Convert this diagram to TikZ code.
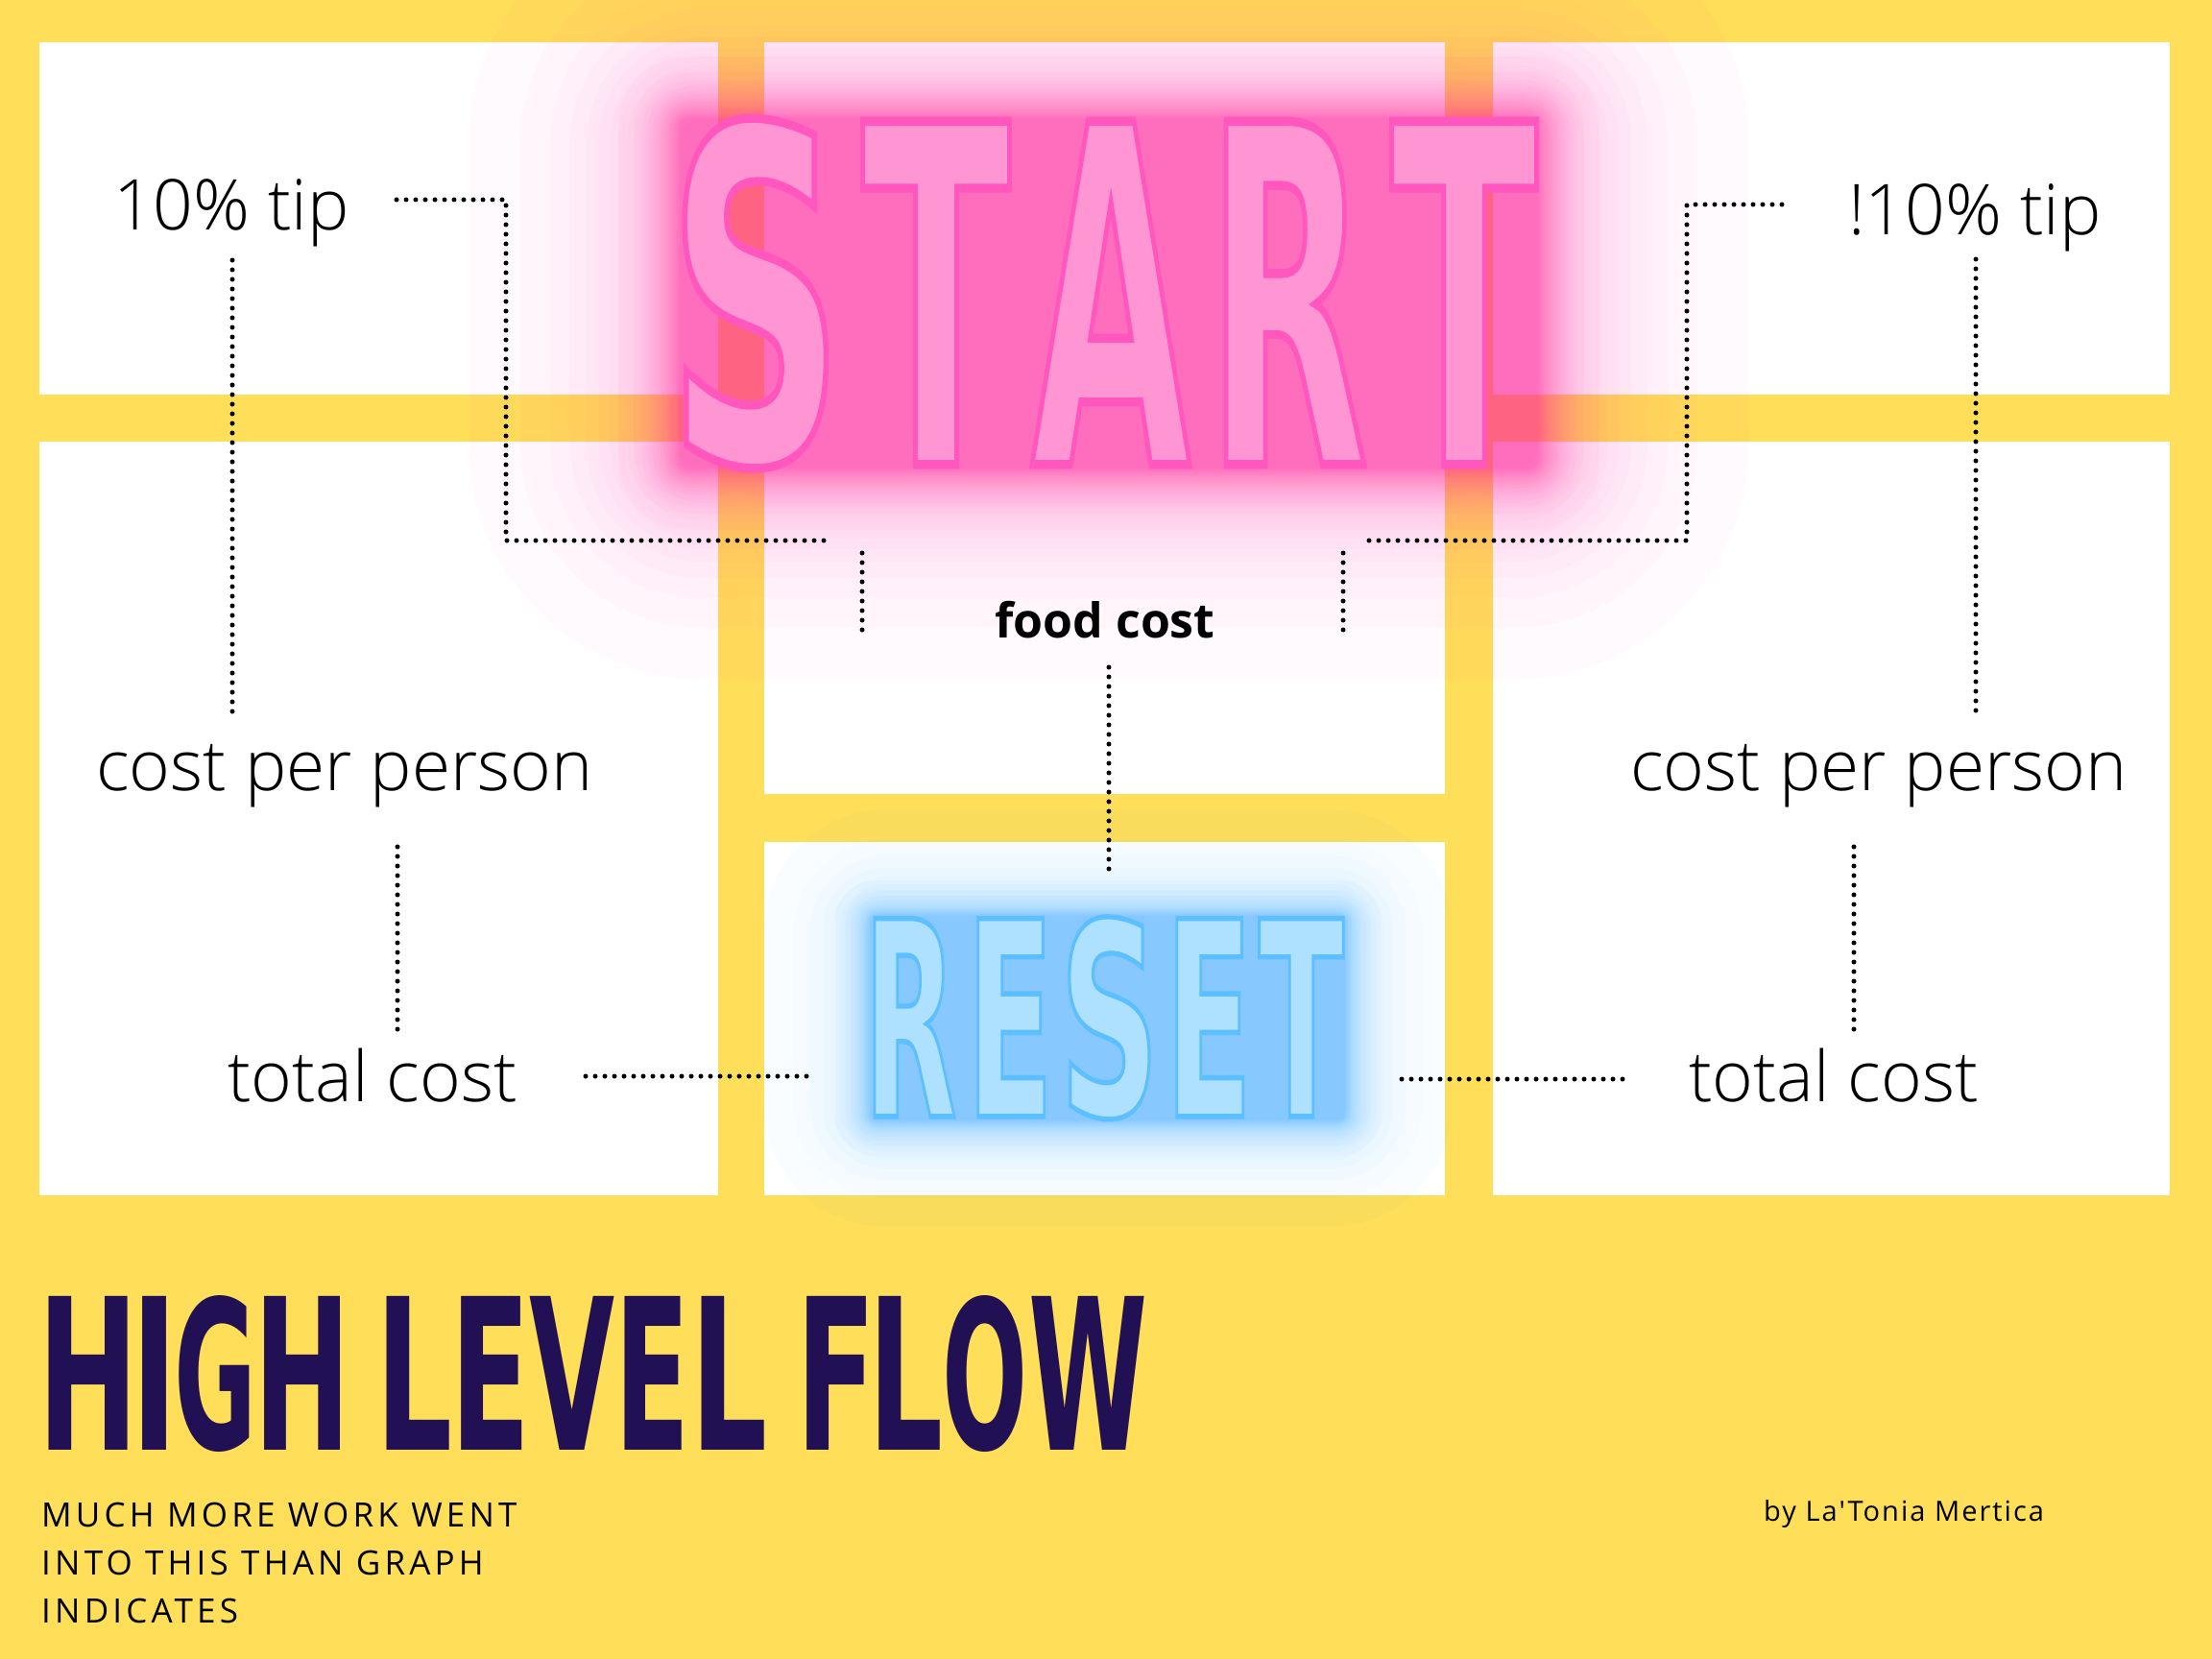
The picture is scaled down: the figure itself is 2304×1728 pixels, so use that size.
\documentclass[tikz,border=0pt]{standalone}
\usepackage{fontspec}
\usepackage{graphicx}
\setmainfont{Open Sans}
\IfFontExistsTF{Open Sans Light}{\newfontfamily\labfont{Open Sans Light}}{\newfontfamily\labfont{Open Sans}}
\IfFontExistsTF{DejaVu Sans Condensed}{\newfontfamily\bebas{DejaVu Sans Condensed}\newfontfamily\bebasG{DejaVu Sans Condensed}[FakeBold=1.9]}{\newfontfamily\bebas{DejaVu Sans}\newfontfamily\bebasG{DejaVu Sans}[FakeBold=1.9]}
\newfontfamily\subfont{Open Sans}[LetterSpace=12]
\newfontfamily\byfont{Open Sans}[LetterSpace=7]
\definecolor{ybg}{HTML}{FFDE59}
\definecolor{pinkfill}{HTML}{FF96D3}
\definecolor{pinkglow}{HTML}{FF3AAD}
\definecolor{bluefill}{HTML}{AEE1FF}
\definecolor{blueglow}{HTML}{36ACFF}
\definecolor{navy}{HTML}{221054}
\tikzset{
  dots/.style={line width=5pt, dash pattern=on 0pt off 10pt, line cap=round, black},
  lab/.style={inner sep=0pt, anchor=base, font=\labfont\fontsize{73}{88}\selectfont},
  glyph/.style={inner sep=0pt, anchor=south},
  panel/.style={fill=white, draw=none},
}
% name, cx, bottom, w, h, char, colour
\newcommand\bigglyph[7]{%
  \node[glyph, text=#7] (#1) at (#2,#3) {\resizebox{#4pt}{#5pt}{\bebas\bfseries #6}};}
% name, cx, bottom, w, h, char, colour, edge rgb
\newcommand\glowglyph[8]{%
  \node[glyph, text=#7] (#1) at (#2,#3) {\special{pdf:literal direct #8 RG}\resizebox{#4pt}{#5pt}{\bebasG\bfseries #6}};}
% x1 y1 x2 y2 colour layer-opacity max-opacity falloff
\newcommand\softglow[8]{%
  \pgfmathtruncatemacro\nmax{ln(1-#7)/ln(1-#6)}%
  \foreach \k in {1,...,\nmax}{%
    \pgfmathsetmacro\dd{-#8*ln((1-(1-#6)^\k)/#7)}%
    \pgfmathsetmacro\rr{\dd+0.3*#8}%
    \fill[#5, opacity=#6, rounded corners=\rr pt] (#1-\dd,#2-\dd) rectangle (#3+\dd,#4+\dd);}}
\begin{document}
\begin{tikzpicture}[x=1pt,y=-1pt]
\useasboundingbox (0,0) rectangle (2304,1728);
\fill[ybg] (0,0) rectangle (2304,1728);
% panels
\fill[panel] (41,44) rectangle (748,411);
\fill[panel] (41,460) rectangle (748,1245);
\fill[panel] (796,44) rectangle (1505,827);
\fill[panel] (796,877) rectangle (1505,1245);
\fill[panel] (1555,44) rectangle (2260,411);
\fill[panel] (1555,460) rectangle (2260,1245);
% glows
\softglow{709}{124}{1601}{487}{pinkglow}{0.025}{0.42}{78}
\softglow{709}{124}{1601}{487}{pinkglow}{0.03}{0.46}{24}
\softglow{908}{955}{1400}{1166}{blueglow}{0.025}{0.3}{45}
\softglow{908}{955}{1400}{1166}{blueglow}{0.03}{0.38}{15}
% connectors
\coordinate (a1) at (413,208); \coordinate (a2) at (527,208);
\coordinate (a3) at (527,563); \coordinate (a4) at (860,563);
\draw[dots] (a1) -- (a2) -- (a3) -- (a4);
\coordinate (b1) at (898,576); \coordinate (b2) at (898,660);
\draw[dots] (b1) -- (b2);
\coordinate (c1) at (1399,576); \coordinate (c2) at (1399,660);
\draw[dots] (c1) -- (c2);
\coordinate (d1) at (1426,563); \coordinate (d2) at (1757,563);
\coordinate (d3) at (1757,213); \coordinate (d4) at (1866,213);
\draw[dots] (d1) -- (d2) -- (d3) -- (d4);
\coordinate (e1) at (242,271); \coordinate (e2) at (242,742);
\draw[dots] (e1) -- (e2);
\coordinate (f1) at (2058,270); \coordinate (f2) at (2058,742);
\draw[dots] (f1) -- (f2);
\coordinate (g1) at (414,882); \coordinate (g2) at (414,1073);
\draw[dots] (g1) -- (g2);
\coordinate (h1) at (1931,882); \coordinate (h2) at (1931,1073);
\draw[dots] (h1) -- (h2);
\coordinate (i1) at (1155,695); \coordinate (i2) at (1155,907);
\draw[dots] (i1) -- (i2);
\coordinate (j1) at (610,1121); \coordinate (j2) at (843,1121);
\draw[dots] (j1) -- (j2);
\coordinate (k1) at (1460,1124); \coordinate (k2) at (1693,1124);
\draw[dots] (k1) -- (k2);
% labels
\node[lab] (tipL) at (241,240) {10\% tip};
\node[lab] (tipR) at (2057,245) {!10\% tip};
\node[lab] (cppL) at (359,823) {cost per person};
\node[lab] (cppR) at (1957,823) {cost per person};
\node[lab] (totL) at (388,1147) {total cost};
\node[lab] (totR) at (1910,1147) {total cost};
\node[inner sep=0pt, anchor=base, font=\fontsize{50}{60}\selectfont\bfseries] (food) at (1151,664) {food cost};
% START
\glowglyph{s1}{787}{488}{184}{357}{S}{pinkfill}{1 0.34 0.74}
\glowglyph{s2}{975}{484}{155}{357}{T}{pinkfill}{1 0.34 0.74}
\glowglyph{s3}{1157}{484}{166}{357}{A}{pinkfill}{1 0.34 0.74}
\glowglyph{s4}{1341}{484}{168}{357}{R}{pinkfill}{1 0.34 0.74}
\glowglyph{s5}{1525}{484}{153}{357}{T}{pinkfill}{1 0.34 0.74}
% RESET
\glowglyph{r1}{948}{1163}{97}{206}{R}{bluefill}{0.36 0.75 1}
\glowglyph{r2}{1052}{1163}{91}{206}{E}{bluefill}{0.36 0.75 1}
\glowglyph{r3}{1155.5}{1166}{104}{207}{S}{bluefill}{0.36 0.75 1}
\glowglyph{r4}{1259}{1163}{91}{206}{E}{bluefill}{0.36 0.75 1}
\glowglyph{r5}{1355.5}{1163}{89}{206}{T}{bluefill}{0.36 0.75 1}
% HIGH LEVEL FLOW
\bigglyph{t1}{92}{1511}{105}{160}{H}{navy}
\bigglyph{t2}{161}{1511}{49}{160}{I}{navy}
\bigglyph{t3}{224.5}{1513}{86}{160}{G}{navy}
\bigglyph{t4}{315.5}{1511}{101}{160}{H}{navy}
\bigglyph{t5}{432}{1511}{80}{160}{L}{navy}
\bigglyph{t6}{511}{1511}{83}{160}{E}{navy}
\bigglyph{t7}{596.5}{1511}{89}{160}{V}{navy}
\bigglyph{t8}{680}{1511}{78}{160}{E}{navy}
\bigglyph{t9}{760}{1511}{80}{160}{L}{navy}
\bigglyph{t10}{871}{1511}{83}{160}{F}{navy}
\bigglyph{t11}{944}{1511}{78}{160}{L}{navy}
\bigglyph{t12}{1026.5}{1513}{89}{160}{O}{navy}
\bigglyph{t13}{1134}{1511}{124}{160}{W}{navy}
% subtitle and credit
\node[anchor=base west, inner sep=0pt, font=\subfont\fontsize{35}{50}\selectfont] (sub1) at (43,1590) {MUCH MORE WORK WENT};
\node[anchor=base west, inner sep=0pt, font=\subfont\fontsize{35}{50}\selectfont] (sub2) at (43,1640) {INTO THIS THAN GRAPH};
\node[anchor=base west, inner sep=0pt, font=\subfont\fontsize{35}{50}\selectfont] (sub3) at (43,1690) {INDICATES};
\node[anchor=base west, inner sep=0pt, font=\byfont\fontsize{29}{40}\selectfont] (by) at (1837,1584) {by La'Tonia Mertica};
\end{tikzpicture}
\end{document}
